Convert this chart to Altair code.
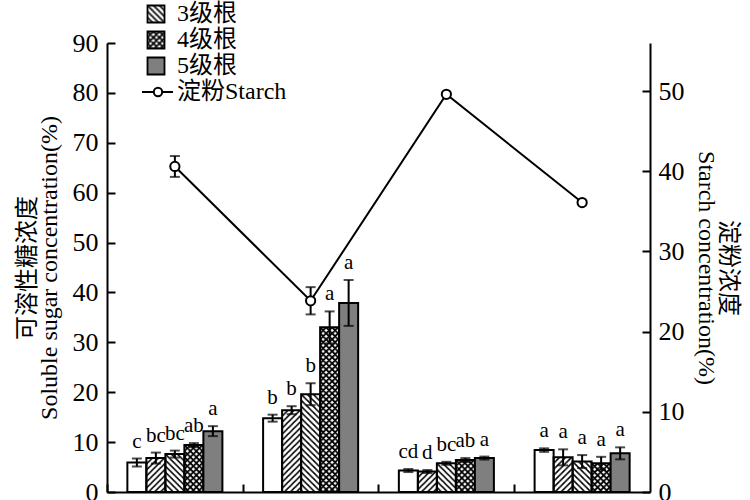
import altair as alt
import pandas as pd
from urllib.parse import quote

# ---------------- data ----------------
groups = ["Ⅰ", "Ⅱ", "Ⅲ", "Ⅳ"]
root_orders = ["1级根", "2级根", "3级根", "4级根", "5级根"]

# soluble sugar (%), one row per group, one column per root order
sugar_mean = [
    [5.9, 6.8, 7.6, 9.4, 12.2],
    [14.8, 16.4, 19.6, 33.0, 37.9],
    [4.3, 4.1, 5.75, 6.4, 6.8],
    [8.4, 6.95, 6.1, 5.75, 7.75],
]
sugar_se = [
    [0.8, 1.1, 0.7, 0.4, 1.0],
    [0.7, 0.8, 2.2, 3.2, 4.6],
    [0.3, 0.3, 0.3, 0.4, 0.3],
    [0.35, 1.6, 1.3, 1.3, 1.2],
]
sugar_sig = [
    ["c", "bc", "bc", "ab", "a"],
    ["b", "b", "b", "a", "a"],
    ["cd", "d", "bc", "ab", "a"],
    ["a", "a", "a", "a", "a"],
]

# starch (%), one value per group
starch_mean = [40.6, 23.85, 49.6, 36.1]
starch_se = [1.3, 1.7, 0.0, 0.0]

sugar_ticks = [0, 10, 20, 30, 40, 50, 60, 70, 80, 90]
starch_ticks = [0, 10, 20, 30, 40, 50]
legend_labels = root_orders + ["淀粉Starch"]

# ---------------- appearance ----------------
FONT = "Liberation Serif, Noto Sans CJK SC"
W, H = 543, 449
PAD_INNER, PAD_OUTER = 0.3, 0.15
STEP = W / (len(groups) - PAD_INNER + 2 * PAD_OUTER)
GRAY = "#7f7f7f"


def hatch_url(kind, p=6, sw=1.6):
    fwd = f"M0,{p} L{p},0 M-1,1 L1,-1 M{p-1},{p+1} L{p+1},{p-1}"
    back = f"M0,0 L{p},{p} M-1,{p-1} L1,{p+1} M{p-1},-1 L{p+1},1"
    d = {"fwd": fwd, "back": back, "cross": fwd + " " + back}[kind]
    svg = (
        "<svg xmlns='http://www.w3.org/2000/svg' width='100%' height='100%'>"
        f"<defs><pattern id='h' width='{p}' height='{p}' patternUnits='userSpaceOnUse'>"
        f"<path d='{d}' stroke='black' stroke-width='{sw}' fill='none' stroke-linecap='square'/>"
        "</pattern></defs>"
        "<rect width='100%' height='100%' fill='white'/>"
        "<rect width='100%' height='100%' fill='url(#h)'/></svg>"
    )
    return "data:image/svg+xml;charset=utf-8," + quote(svg, safe="")


hatch = {
    "2级根": hatch_url("fwd"),
    "3级根": hatch_url("back"),
    "4级根": hatch_url("cross", sw=1.8),
}
fills = {"1级根": "white", "2级根": "transparent", "3级根": "transparent",
         "4级根": "transparent", "5级根": GRAY}

# ---------------- tables ----------------
rows = []
for gi, g in enumerate(groups):
    for oi, o in enumerate(root_orders):
        m, s = sugar_mean[gi][oi], sugar_se[gi][oi]
        rows.append({"group": g, "order": o, "mean": m, "se": s,
                     "lo": m - s, "hi": m + s, "sig": sugar_sig[gi][oi],
                     "hatch": hatch.get(o, "")})
bars_df = pd.DataFrame(rows)
hatched_df = bars_df[bars_df["hatch"] != ""]

starch_df = pd.DataFrame({"group": groups, "mean": starch_mean, "se": starch_se})
starch_df["lo"] = starch_df["mean"] - starch_df["se"]
starch_df["hi"] = starch_df["mean"] + starch_df["se"]
starch_err_df = starch_df[starch_df["se"] > 0]

legend_df = pd.DataFrame({"label": legend_labels, "row": list(range(len(legend_labels)))})
legend_df["hatch"] = legend_df["label"].map(lambda k: hatch.get(k, ""))
legend_df["fill"] = legend_df["label"].map(lambda k: fills.get(k, "white"))
legend_hatch_df = legend_df[legend_df["hatch"] != ""]
legend_box_df = legend_df[legend_df["label"].isin(root_orders)]
legend_line_df = legend_df[~legend_df["label"].isin(root_orders)]

# ---------------- axes / encodings ----------------
INWARD = {"expr": "-8"}
common_axis = dict(tickSize=INWARD, tickWidth=2, tickColor="black",
                   domainColor="black", domainWidth=2, grid=False,
                   labelFont=FONT, labelFontSize=26, labelColor="black",
                   labelFlush=False, labelOverlap=False,
                   titleFont=FONT, titleFontSize=24, titleFontWeight="normal",
                   titleColor="black", titleLineHeight=22)

x_axis = alt.Axis(labels=False, title=None, tickSize=INWARD, tickWidth=2,
                  tickColor="black", domainColor="black", domainWidth=2,
                  grid=False, bandPosition=0, tickOffset=-PAD_OUTER * STEP)
left_axis = alt.Axis(orient="left", values=sugar_ticks, labelPadding=17,
                     title=["可溶性糖浓度", "Soluble sugar concentration(%)"],
                     titlePadding=11, **common_axis)
right_axis = alt.Axis(orient="right", values=starch_ticks, labelPadding=16,
                      title=["淀粉浓度", "Starch concentration(%)"],
                      titlePadding=9, **common_axis)

x_enc = alt.X("group:N", scale=alt.Scale(domain=groups, paddingInner=PAD_INNER,
                                          paddingOuter=PAD_OUTER), axis=x_axis)
xo_enc = alt.XOffset("order:N", scale=alt.Scale(domain=root_orders,
                                                 paddingInner=0, paddingOuter=0))
sugar_scale = alt.Scale(domain=[0, 90], nice=False)
starch_scale = alt.Scale(domain=[0, 56], nice=False)


def y_sugar(f):
    return alt.Y(f"{f}:Q", scale=sugar_scale, axis=left_axis, stack=None)


def y_starch(f):
    return alt.Y(f"{f}:Q", scale=starch_scale, axis=right_axis, stack=None)


# ---------------- soluble sugar bars ----------------
hatch_layer = alt.Chart(hatched_df).mark_image(aspect=False).encode(
    x=x_enc, xOffset=xo_enc, y=y_sugar("mean"), y2=alt.datum(0),
    url=alt.Url("hatch:N"))

bar_layer = alt.Chart(bars_df).mark_bar(stroke="black", strokeWidth=2).encode(
    x=x_enc, xOffset=xo_enc, y=y_sugar("mean"),
    fill=alt.Fill("order:N", scale=alt.Scale(domain=list(fills),
                                             range=list(fills.values())),
                  legend=None))

err_rule = alt.Chart(bars_df).mark_rule(color="black", strokeWidth=2).encode(
    x=x_enc, xOffset=xo_enc, y=y_sugar("lo"), y2="hi:Q")
cap_lo = alt.Chart(bars_df).mark_tick(color="black", thickness=2, size=10,
                                      orient="horizontal").encode(
    x=x_enc, xOffset=xo_enc, y=y_sugar("lo"))
cap_hi = alt.Chart(bars_df).mark_tick(color="black", thickness=2, size=10,
                                      orient="horizontal").encode(
    x=x_enc, xOffset=xo_enc, y=y_sugar("hi"))
sig_text = alt.Chart(bars_df).mark_text(font=FONT, fontSize=21, color="black",
                                        baseline="alphabetic", dy=-11).encode(
    x=x_enc, xOffset=xo_enc, y=y_sugar("hi"), text="sig:N")

sugar = alt.layer(hatch_layer, bar_layer, err_rule, cap_lo, cap_hi, sig_text)

# ---------------- starch line ----------------
starch_line = alt.Chart(starch_df).mark_line(color="black", strokeWidth=2).encode(
    x=x_enc, y=y_starch("mean"))
starch_rule = alt.Chart(starch_err_df).mark_rule(color="black", strokeWidth=2).encode(
    x=x_enc, y=y_starch("lo"), y2="hi:Q")
starch_cap_lo = alt.Chart(starch_err_df).mark_tick(color="black", thickness=2, size=10,
                                                   orient="horizontal").encode(
    x=x_enc, y=y_starch("lo"))
starch_cap_hi = alt.Chart(starch_err_df).mark_tick(color="black", thickness=2, size=10,
                                                   orient="horizontal").encode(
    x=x_enc, y=y_starch("hi"))
starch_pts = alt.Chart(starch_df).mark_point(shape="circle", filled=True, fill="white",
                                             stroke="black", strokeWidth=2, size=85,
                                             opacity=1).encode(
    x=x_enc, y=y_starch("mean"))

starch = alt.layer(starch_line, starch_rule, starch_cap_lo, starch_cap_hi, starch_pts)

# ---------------- legend (upper left, inside the plot) ----------------
leg_y = alt.Y("row:Q", scale=alt.Scale(domain=[0, 5], range=[-81, 49]), axis=None)

leg_hatch = alt.Chart(legend_hatch_df).mark_image(width=17, height=17, aspect=False).encode(
    x=alt.value(49), y=leg_y, url=alt.Url("hatch:N"))
leg_box = alt.Chart(legend_box_df).mark_point(shape="square", size=289, filled=True,
                                              stroke="black", strokeWidth=1.8,
                                              opacity=1).encode(
    x=alt.value(49), y=leg_y, fill=alt.Fill("fill:N", scale=None))
leg_line = alt.Chart(legend_line_df).mark_rule(color="black", strokeWidth=2).encode(
    x=alt.value(35), x2=alt.value(66), y=leg_y)
leg_pt = alt.Chart(legend_line_df).mark_point(shape="circle", filled=True, fill="white",
                                              stroke="black", strokeWidth=2, size=70,
                                              opacity=1).encode(
    x=alt.value(51), y=leg_y)
leg_text = alt.Chart(legend_df).mark_text(font=FONT, fontSize=24, color="black",
                                          align="left", baseline="middle").encode(
    x=alt.value(70), y=leg_y, text="label:N")

legend = alt.layer(leg_hatch, leg_box, leg_line, leg_pt, leg_text)

chart = (
    alt.layer(sugar, starch, legend)
    .resolve_scale(y="independent")
    .properties(width=W, height=H,
                padding={"left": 107, "top": 43, "right": 100, "bottom": 8},
                autosize=alt.AutoSizeParams(type="none"),
                background="white")
    .configure_view(stroke=None)
)

chart.save("out.html", embed_options={"renderer": "svg", "actions": False})
